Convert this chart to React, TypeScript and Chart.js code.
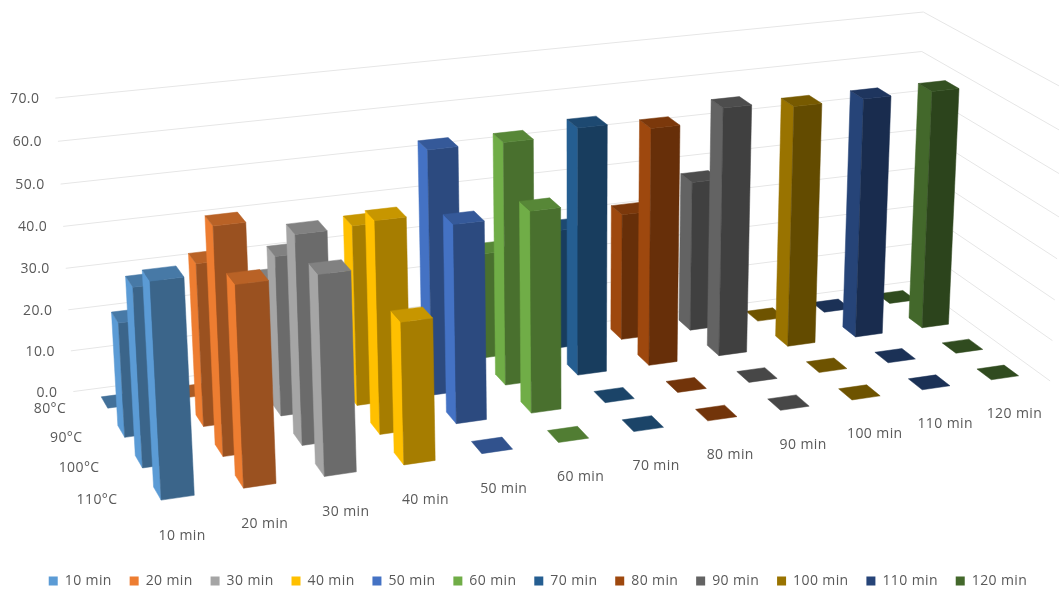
import React, { useEffect, useRef } from "react";
import { Chart, registerables } from "chart.js";

Chart.register(...registerables);

const temperatures = ["80°C", "90°C", "100°C", "110°C"];
const min10 = [0, 27, 41.5, 49];
const min20 = [0, 38.5, 53, 46];
const min30 = [26, 38, 49, 46];
const min40 = [0, 43, 50, 33];
const min50 = [0, 58.7, 47, 0];
const min60 = [26, 58.5, 48, 0];
const min70 = [29.5, 60, 0, 0];
const min80 = [31.5, 58, 0, 0];
const min90 = [37.5, 61, 0, 0];
const min100 = [0, 59.5, 0, 0];
const min110 = [0, 59.5, 0, 0];
const min120 = [0, 59.5, 0, 0];
const seriesNames = ["10 min", "20 min", "30 min", "40 min", "50 min", "60 min", "70 min", "80 min", "90 min", "100 min", "110 min", "120 min"];
const seriesValues = [min10, min20, min30, min40, min50, min60, min70, min80, min90, min100, min110, min120];
const seriesColors = ["#5B9BD5", "#ED7D31", "#A5A5A5", "#FFC000", "#4472C4", "#70AD47", "#255E91", "#9E480E", "#636363", "#997300", "#264478", "#43682B"];

// camera calibration: [slot along time, slot along temperature, fraction of value axis, screen x, screen y]
const calibration = [
  [0, 0, 0, 73, 392],
  [12, 0, 0, 911, 281],
  [12, 4, 0, 1050, 381],
  [0, 4, 0, 144, 513],
  [0, 0, 1, 56, 98],
  [12, 0, 1, 923, 12],
  [12, 4, 1, 1068, 90],
  [0.3, 3.7, 0, 160, 501],
  [11.3, 3.7, 0, 990, 380],
  [0.3, 1.7, 0, 124, 437],
  [11.3, 0.7, 0, 893, 303],
  [0.3, 3.7, 0.7, 149, 281],
  [11.3, 1.7, 0.85, 931, 92],
];
const BAR_FRACTION = 0.4;
const FONT = '"Open Sans", sans-serif';
const TEXT_COLOR = "#595959";
const GRID_COLOR = "#e6e6e6";
const LETTER_SPACING = "0.4px";

function solveCamera(): number[] {
  const n = 11;
  const A: number[][] = Array.from({ length: n }, () => new Array(n + 1).fill(0));
  const addRow = (row: number[], rhs: number) => {
    for (let r = 0; r < n; r++) {
      for (let c = 0; c < n; c++) A[r][c] += row[r] * row[c];
      A[r][n] += row[r] * rhs;
    }
  };
  for (const [u, v, w, x, y] of calibration) {
    addRow([u, v, w, 1, 0, 0, 0, 0, -x * u, -x * v, -x * w], x);
    addRow([0, 0, 0, 0, u, v, w, 1, -y * u, -y * v, -y * w], y);
  }
  for (let i = 0; i < n; i++) {
    let p = i;
    for (let r = i + 1; r < n; r++) if (Math.abs(A[r][i]) > Math.abs(A[p][i])) p = r;
    [A[i], A[p]] = [A[p], A[i]];
    for (let r = 0; r < n; r++) {
      if (r === i) continue;
      const f = A[r][i] / A[i][i];
      for (let c = i; c <= n; c++) A[r][c] -= f * A[i][c];
    }
  }
  return A.map((row, i) => row[n] / row[i]);
}

const M = solveCamera();
function project(u: number, v: number, w: number): [number, number] {
  const d = M[8] * u + M[9] * v + M[10] * w + 1;
  return [(M[0] * u + M[1] * v + M[2] * w + M[3]) / d, (M[4] * u + M[5] * v + M[6] * w + M[7]) / d];
}

function shade(hex: string, k: number): string {
  const n = parseInt(hex.slice(1), 16);
  const c = [(n >> 16) & 255, (n >> 8) & 255, n & 255].map((x) => Math.round(x * k));
  return `rgb(${c[0]},${c[1]},${c[2]})`;
}

function quad(ctx: CanvasRenderingContext2D, pts: [number, number][], color: string) {
  ctx.beginPath();
  pts.forEach(([x, y], i) => (i ? ctx.lineTo(x, y) : ctx.moveTo(x, y)));
  ctx.closePath();
  ctx.fillStyle = color;
  ctx.fill();
  ctx.strokeStyle = color;
  ctx.lineWidth = 0.5;
  ctx.stroke();
}

const bars3d = {
  id: "bars3d",
  beforeLayout(chart: any) {
    chart.ctx.letterSpacing = LETTER_SPACING;
  },
  afterLayout(chart: any) {
    const lg = chart.legend;
    lg.top += 9;
    lg.bottom += 9;
    lg.left += 8.5;
    lg.right += 8.5;
  },
  beforeDraw(chart: any) {
    chart.ctx.letterSpacing = LETTER_SPACING;
  },
  beforeDatasetsDraw(chart: any) {
    const ctx: CanvasRenderingContext2D = chart.ctx;
    const yScale = chart.scales.y;
    const fraction = (v: number) => yScale.getDecimalForPixel(yScale.getPixelForValue(v));
    const depth = chart.data.labels.length;
    const count = chart.data.datasets.length;
    ctx.save();
    // walls
    ctx.strokeStyle = GRID_COLOR;
    ctx.lineWidth = 1;
    ctx.font = `14px ${FONT}`;
    ctx.textBaseline = "middle";
    for (const tick of yScale.ticks) {
      const w = fraction(tick.value);
      const a = project(0, 0, w);
      const b = project(count, 0, w);
      const c = project(count, depth, w);
      ctx.beginPath();
      ctx.moveTo(a[0], a[1]);
      ctx.lineTo(b[0], b[1]);
      ctx.lineTo(c[0], c[1]);
      ctx.strokeStyle = GRID_COLOR;
      ctx.lineWidth = 1;
      ctx.stroke();
      ctx.textAlign = "right";
      ctx.fillStyle = TEXT_COLOR;
      ctx.fillText(tick.label, a[0] - 16, a[1] + 1);
    }
    // bars, back to front
    const half = BAR_FRACTION / 2;
    for (let d = 0; d < depth; d++) {
      for (let i = count - 1; i >= 0; i--) {
        const ds = chart.data.datasets[i];
        const w = fraction(ds.data[d]);
        const u0 = i + 0.5 - half, u1 = i + 0.5 + half;
        const v0 = d + 0.5 - half, v1 = d + 0.5 + half;
        const color = ds.backgroundColor;
        if (w > 0) {
          quad(ctx, [project(u0, v0, 0), project(u0, v1, 0), project(u0, v1, w), project(u0, v0, w)], color);
          quad(ctx, [project(u0, v1, 0), project(u1, v1, 0), project(u1, v1, w), project(u0, v1, w)], shade(color, 0.65));
        }
        quad(ctx, [project(u0, v0, w), project(u1, v0, w), project(u1, v1, w), project(u0, v1, w)], shade(color, w > 0 ? 0.78 : 0.72));
      }
    }
    // category labels
    ctx.fillStyle = TEXT_COLOR;
    ctx.textAlign = "center";
    chart.data.datasets.forEach((ds: any, i: number) => {
      const p = project(i + 0.5, depth, 0);
      ctx.fillText(ds.label, p[0] - 1.5, p[1] + 28);
    });
    ctx.textAlign = "right";
    chart.data.labels.forEach((label: string, d: number) => {
      const p = project(0, d + 0.5, 0);
      ctx.fillText(label, p[0] - 15, p[1] + 3);
    });
    ctx.restore();
    return false;
  },
};

export default function App() {
  const ref = useRef<HTMLCanvasElement>(null);
  useEffect(() => {
    const chart = new Chart(ref.current as HTMLCanvasElement, {
      type: "bar",
      data: {
        labels: temperatures,
        datasets: seriesNames.map((label, i) => ({ label, data: seriesValues[i], backgroundColor: seriesColors[i], borderWidth: 0 })),
      },
      options: {
        animation: false,
        responsive: false,
        layout: { padding: 0 },
        plugins: {
          title: { display: false },
          tooltip: { enabled: false },
          legend: {
            position: "bottom",
            labels: { boxWidth: 9, boxHeight: 9, padding: 17.8, color: TEXT_COLOR, font: { family: FONT, size: 14 } },
          },
        },
        scales: {
          x: { display: false },
          y: { display: false, min: 0, max: 70, ticks: { stepSize: 10, callback: (v: any) => Number(v).toFixed(1) } },
        },
      },
      plugins: [bars3d],
    } as any);
    return () => chart.destroy();
  }, []);
  return (
    <div style={{ position: "fixed", left: 0, top: 0, width: 1059, height: 589, background: "#fff" }}>
      <canvas ref={ref} width={1059} height={589} style={{ display: "block" }} />
    </div>
  );
}
